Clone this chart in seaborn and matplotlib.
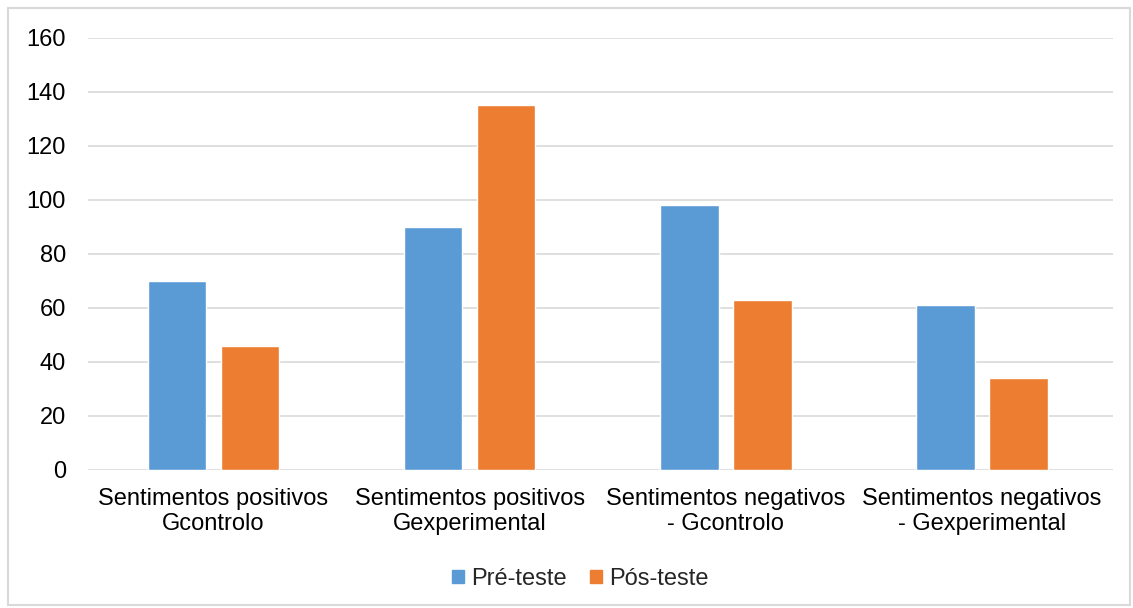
import pandas as pd
import seaborn as sns
import matplotlib.pyplot as plt
from matplotlib.patches import Rectangle

# Data
categories = ["Sentimentos positivos\nGcontrolo",
              "Sentimentos positivos\nGexperimental",
              "Sentimentos negativos\n- Gcontrolo",
              "Sentimentos negativos\n- Gexperimental"]
pre_teste = [70, 90, 98, 61]
pos_teste = [46, 135, 63, 34]
series = ["Pré-teste", "Pós-teste"]

df = pd.DataFrame({
    "categoria": categories * 2,
    "valor": pre_teste + pos_teste,
    "serie": [series[0]] * 4 + [series[1]] * 4,
})

sns.set_style("white")
plt.rcParams['font.family'] = ['Liberation Sans', 'DejaVu Sans']

fig = plt.figure(figsize=(11.33, 6.08), dpi=100)
ax = fig.add_axes([0.0777, 0.227, 0.9043, 0.7105])

sns.barplot(data=df, x="categoria", y="valor", hue="serie",
            palette=["#5B9BD5", "#ED7D31"], saturation=1,
            width=0.57, gap=0.2, ax=ax, legend=False)

ax.set_ylim(0, 160)
ax.set_yticks(range(0, 161, 20))
ax.set_xlim(-0.49, 3.51)
ax.grid(axis="y", color="#D9D9D9", linewidth=1.2)
ax.set_axisbelow(True)
for s in ax.spines.values():
    s.set_visible(False)
ax.tick_params(axis="both", length=0, labelsize=17, colors="#000000")
ax.tick_params(axis="x", pad=13)
ax.tick_params(axis="y", pad=16)
ax.set_xlabel("")
ax.set_ylabel("")

handles = [Rectangle((0, 0), 1, 1, color="#5B9BD5"),
           Rectangle((0, 0), 1, 1, color="#ED7D31")]
fig.legend(handles, series, loc="center", bbox_to_anchor=(0.512, 0.048),
           ncol=2, frameon=False, fontsize=17, handlelength=0.5,
           handleheight=0.5, handletextpad=0.3, columnspacing=1.0)

# outer chart border
fig.patches.append(Rectangle((0.007, 0.005), 0.99, 0.982, transform=fig.transFigure,
                             fill=False, edgecolor="#D9D9D9", linewidth=1.5))

fig.savefig("out.png", dpi=100)
